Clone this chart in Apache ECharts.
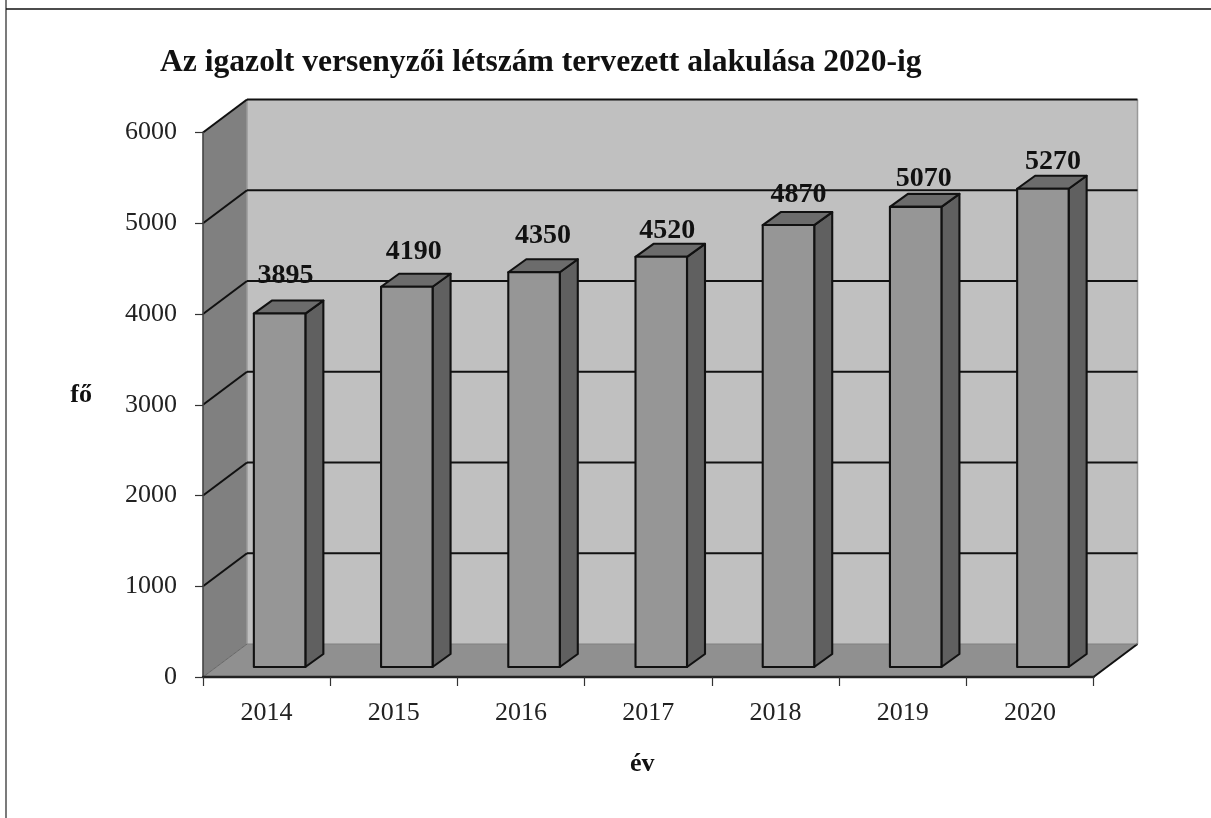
<!DOCTYPE html>
<html><head><meta charset="utf-8">
<style>html,body{margin:0;padding:0;background:#fff}#c{width:1211px;height:818px}</style>
<script src="https://cdn.jsdelivr.net/npm/echarts@6/dist/echarts.min.js"></script>
</head><body><div id="c"></div>
<script>
const categories = ['2014','2015','2016','2017','2018','2019','2020'];
const values = [3895,4190,4350,4520,4870,5070,5270];
const valueTicks = [0,1000,2000,3000,4000,5000,6000];
const chartTitle = 'Az igazolt versenyzői létszám tervezett alakulása 2020-ig';
const xName = 'év';
const yName = 'fő';

const FONT = '"Liberation Serif", serif';
const WALL_DX = 44, WALL_DY = -33;
const BAR_W = 51.5, BAR_SHIFT = 13, BAR_DROP = -10, BAR_DX = 18, BAR_DY = -13;
const LABEL_LIFT = [38,35,36,26,30,28,27];
const LABEL_SHIFT = [6,7,9,6,10,8,10];

function renderWalls(params, api) {
  const s = params.coordSys;
  const l = s.x, r = s.x + s.width, b = s.y + s.height, t = s.y;
  const poly = (points, fill, stroke, w) => ({type:'polygon', shape:{points},
    style:{fill, stroke: stroke || 'none', lineWidth: w || 0}});
  const line = (x1,y1,x2,y2,stroke,w) => ({type:'line', shape:{x1,y1,x2,y2}, style:{stroke, lineWidth:w}});
  const children = [
    poly([[l+WALL_DX,t+WALL_DY],[r+WALL_DX,t+WALL_DY],[r+WALL_DX,b+WALL_DY],[l+WALL_DX,b+WALL_DY]],'#c0c0c0'),
    poly([[l,b],[l+WALL_DX,b+WALL_DY],[l+WALL_DX,t+WALL_DY],[l,t]],'#808080'),
    poly([[l,b],[r,b],[r+WALL_DX,b+WALL_DY],[l+WALL_DX,b+WALL_DY]],'#909090'),
    line(l+WALL_DX,t+WALL_DY,l+WALL_DX,b+WALL_DY,'#9a9a9a',1.5),
    line(r+WALL_DX,t+WALL_DY,r+WALL_DX,b+WALL_DY,'#999999',1.5),
    line(l,b,l+WALL_DX,b+WALL_DY,'#666666',1),
    line(r,b,r+WALL_DX,b+WALL_DY,'#111111',2),
    line(l+WALL_DX,b+WALL_DY,r+WALL_DX,b+WALL_DY,'#808080',1)
  ];
  valueTicks.forEach(v => {
    if (v === 0) return;
    const y = api.coord([0, v])[1];
    children.push(line(l,y,l+WALL_DX,y+WALL_DY,'#111111',2.1));
    children.push(line(l+WALL_DX,y+WALL_DY,r+WALL_DX,y+WALL_DY,'#111111',2.1));
  });
  return {type:'group', children};
}

function renderBar(params, api) {
  const i = api.value(0), v = api.value(1);
  const top = api.coord([i, v]), base = api.coord([i, 0]);
  const x0 = top[0] + BAR_SHIFT - BAR_W/2, x1 = x0 + BAR_W;
  const yt = top[1] + BAR_DROP, yb = base[1] + BAR_DROP;
  const st = {stroke:'#111111', lineWidth:2.1, lineJoin:'round'};
  return {type:'group', children:[
    {type:'polygon', shape:{points:[[x1,yb],[x1+BAR_DX,yb+BAR_DY],[x1+BAR_DX,yt+BAR_DY],[x1,yt]]}, style:{fill:'#606060',...st}},
    {type:'polygon', shape:{points:[[x0,yt],[x1,yt],[x1+BAR_DX,yt+BAR_DY],[x0+BAR_DX,yt+BAR_DY]]}, style:{fill:'#6c6c6c',...st}},
    {type:'rect', shape:{x:x0,y:yt,width:BAR_W,height:yb-yt}, style:{fill:'#969696',...st}},
    {type:'text', z2:10, style:{text:String(v), x:x0+BAR_W/2+LABEL_SHIFT[i], y:yt-LABEL_LIFT[i],
      align:'center', verticalAlign:'middle', fill:'#111111',
      font:'bold 28px '+FONT}}
  ]};
}

const chart = echarts.init(document.getElementById('c'), null, {renderer:'canvas'});
chart.setOption({
  animation:false,
  backgroundColor:'#ffffff',
  title:{text:chartTitle, left:155, top:42, textStyle:{fontFamily:FONT, fontWeight:'bold', fontSize:31.6, color:'#111111'}},
  grid:{left:203, top:132.5, width:890.5, height:544.5},
  xAxis:{type:'category', data:categories, z:5,
    axisLine:{lineStyle:{color:'#222222', width:2.4}},
    axisTick:{show:true, length:9, lineStyle:{color:'#333333', width:1.2}},
    axisLabel:{fontFamily:FONT, fontSize:26, color:'#222222', margin:23},
    name:xName, nameLocation:'middle', nameGap:74,
    nameTextStyle:{fontFamily:FONT, fontWeight:'bold', fontSize:26, color:'#111111', padding:[0,12,0,0]}},
  yAxis:{type:'value', min:0, max:6000, interval:1000, z:5,
    axisLine:{show:true, lineStyle:{color:'#444444', width:1.6}},
    axisTick:{show:true, length:8, lineStyle:{color:'#333333', width:1.2}},
    splitLine:{show:false},
    axisLabel:{fontFamily:FONT, fontSize:26, color:'#222222', margin:26, formatter:v=>String(v)},
    name:yName, nameLocation:'middle', nameRotate:0, nameGap:111,
    nameTextStyle:{fontFamily:FONT, fontWeight:'bold', fontSize:26, color:'#111111', verticalAlign:'bottom', lineHeight:18}},
  series:[
    {type:'custom', coordinateSystem:'cartesian2d', renderItem:renderWalls, data:[[0,0]], z:1, silent:true, clip:false},
    {type:'custom', coordinateSystem:'cartesian2d', renderItem:renderBar,
      encode:{x:0,y:1}, data:values.map((v,i)=>[i,v]), z:2, clip:false}
  ],
  graphic:[
    {type:'line', silent:true, shape:{x1:6,y1:0,x2:6,y2:818}, style:{stroke:'#222222', lineWidth:1.2}},
    {type:'line', silent:true, shape:{x1:6,y1:9,x2:1211,y2:9}, style:{stroke:'#111111', lineWidth:1.4}}
  ]
});
</script></body></html>
